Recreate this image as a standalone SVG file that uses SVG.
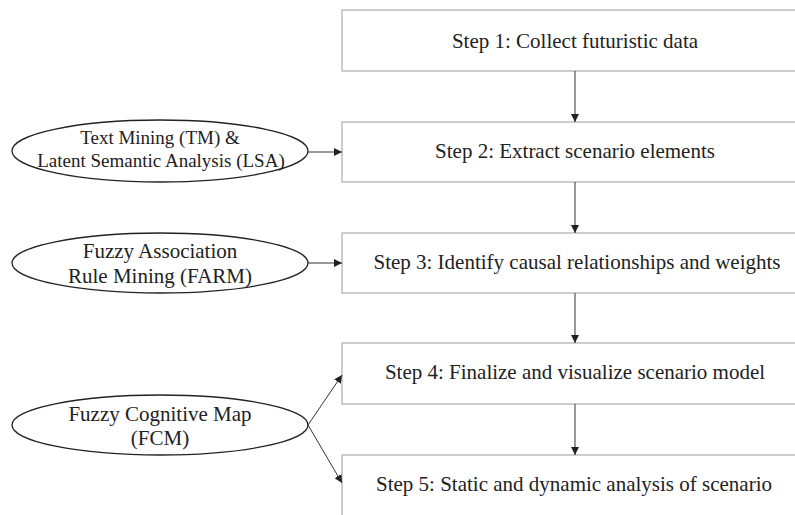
<svg xmlns="http://www.w3.org/2000/svg" width="795" height="515" viewBox="0 0 795 515">
<defs>
<style>
.box{fill:#fff;stroke:#bdbdbd;stroke-width:1.5}
.ell{fill:#fff;stroke:#222;stroke-width:1.3}
.t{font-family:"Liberation Serif","Times New Roman",serif;font-size:21px;fill:#222;text-anchor:middle}
.s{font-size:19px}
.c{stroke:#333;stroke-width:1;fill:none;marker-end:url(#ah)}
</style>
<marker id="ah" viewBox="0 0 10 10" refX="10" refY="5" markerWidth="8" markerHeight="8" markerUnits="userSpaceOnUse" orient="auto">
<path d="M0,0 L10,5 L0,10 z" fill="#222"/>
</marker>
</defs>
<rect width="795" height="515" fill="#fff"/>
<g id="step1"><rect class="box" x="342" y="10" width="470" height="61"/><text class="t" x="575" y="48">Step 1: Collect futuristic data</text></g>
<g id="step2"><rect class="box" x="342" y="122" width="470" height="60"/><text class="t" x="575" y="158">Step 2: Extract scenario elements</text></g>
<g id="step3"><rect class="box" x="342" y="233" width="470" height="60"/><text class="t" x="577" y="269">Step 3: Identify causal relationships and weights</text></g>
<g id="step4"><rect class="box" x="342" y="343" width="470" height="61"/><text class="t" x="575" y="379">Step 4: Finalize and visualize scenario model</text></g>
<g id="step5"><rect class="box" x="342" y="455" width="470" height="80"/><text class="t" x="574" y="491">Step 5: Static and dynamic analysis of scenario</text></g>
<g id="tm"><ellipse class="ell" cx="160" cy="151" rx="148" ry="31"/><text class="t s" x="160" y="144">Text Mining (TM) &amp;</text><text class="t s" x="161" y="167">Latent Semantic Analysis (LSA)</text></g>
<g id="farm"><ellipse class="ell" cx="160" cy="263" rx="148" ry="30"/><text class="t" x="160" y="258">Fuzzy Association</text><text class="t" x="160" y="283">Rule Mining (FARM)</text></g>
<g id="fcm"><ellipse class="ell" cx="160" cy="425" rx="148" ry="30"/><text class="t" x="160" y="421">Fuzzy Cognitive Map</text><text class="t" x="160" y="445">(FCM)</text></g>
<g id="connectors">
<line class="c" x1="575" y1="71" x2="575" y2="122"/>
<line class="c" x1="575" y1="182" x2="575" y2="233"/>
<line class="c" x1="575" y1="293" x2="575" y2="343"/>
<line class="c" x1="575" y1="404" x2="575" y2="455"/>
<line class="c" x1="308" y1="152" x2="342" y2="152"/>
<line class="c" x1="308" y1="263" x2="342" y2="263"/>
<line class="c" x1="308" y1="425" x2="342" y2="375"/>
<line class="c" x1="308" y1="425" x2="342" y2="483"/>
</g>
</svg>
